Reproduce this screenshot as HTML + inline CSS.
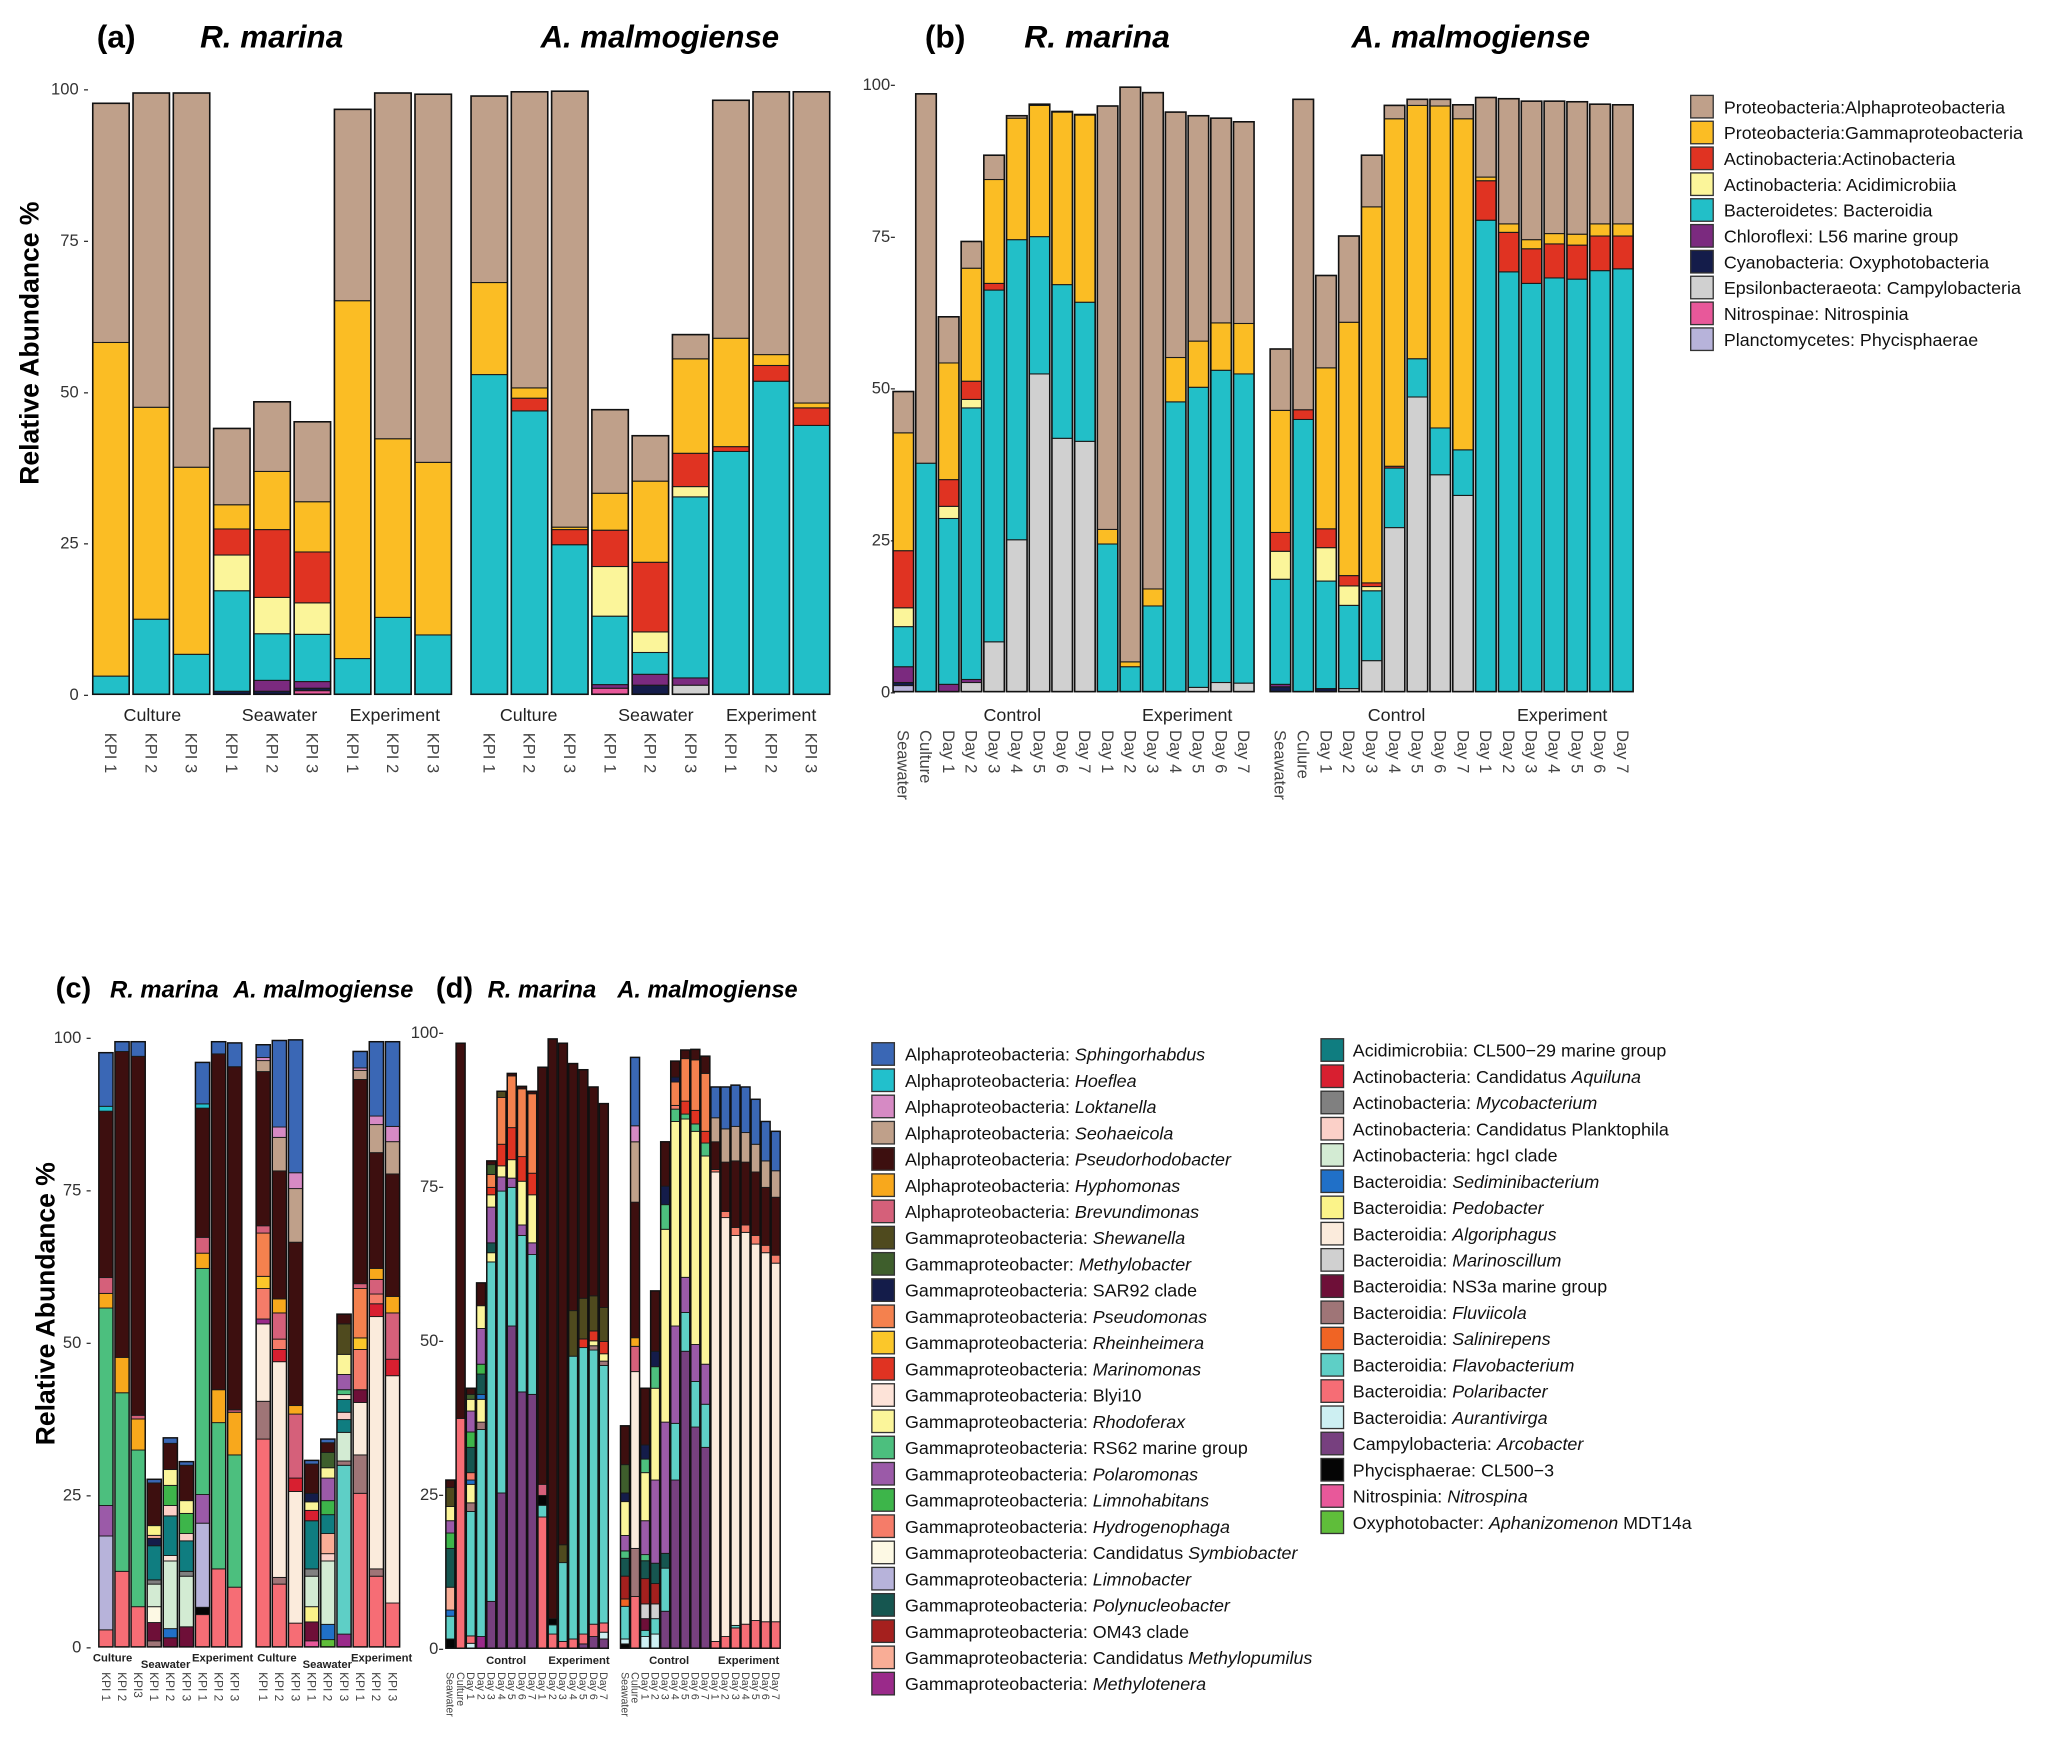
<!DOCTYPE html>
<html><head><meta charset="utf-8">
<style>
html,body{margin:0;padding:0;background:#fff;}
svg{display:block;font-family:"Liberation Sans",sans-serif;}
</style></head>
<body>
<svg id="fig" width="2067" height="1737" viewBox="0 0 1560 1311" preserveAspectRatio="none" xmlns="http://www.w3.org/2000/svg">
  <g font-weight="bold">
    <text x="73" y="36" font-size="24">(a)</text>
    <text x="151" y="36" font-size="24" font-style="italic" textLength="108" lengthAdjust="spacingAndGlyphs">R. marina</text>
    <text x="408" y="36" font-size="24" font-style="italic" textLength="180" lengthAdjust="spacingAndGlyphs">A. malmogiense</text>
    <text x="698" y="36" font-size="24">(b)</text>
    <text x="773" y="36" font-size="24" font-style="italic" textLength="110" lengthAdjust="spacingAndGlyphs">R. marina</text>
    <text x="1020" y="36" font-size="24" font-style="italic" textLength="180" lengthAdjust="spacingAndGlyphs">A. malmogiense</text>
    <text x="42" y="753" font-size="22">(c)</text>
    <text x="83" y="753" font-size="18" font-style="italic" textLength="82" lengthAdjust="spacingAndGlyphs">R. marina</text>
    <text x="176" y="753" font-size="18" font-style="italic" textLength="136" lengthAdjust="spacingAndGlyphs">A. malmogiense</text>
    <text x="329" y="753" font-size="22">(d)</text>
    <text x="368" y="753" font-size="18" font-style="italic" textLength="82" lengthAdjust="spacingAndGlyphs">R. marina</text>
    <text x="466" y="753" font-size="18" font-style="italic" textLength="136" lengthAdjust="spacingAndGlyphs">A. malmogiense</text>
  </g>
  <text transform="translate(29,259) rotate(-90)" text-anchor="middle" font-size="20" font-weight="bold">Relative Abundance %</text>
  <text transform="translate(41,984) rotate(-90)" text-anchor="middle" font-size="20" font-weight="bold">Relative Abundance %</text>
  <g id="layer"></g>
</svg>
<script>
// ---------- Panel a/b data (class level); segment heights, bottom-up in taxon order ----------
const abTaxa = ['Planctomycetes: Phycisphaerae','Nitrospinae: Nitrospinia','Epsilonbacteraeota: Campylobacteria','Cyanobacteria: Oxyphotobacteria','Chloroflexi: L56 marine group','Bacteroidetes: Bacteroidia','Actinobacteria: Acidimicrobiia','Actinobacteria:Actinobacteria','Proteobacteria:Gammaproteobacteria','Proteobacteria:Alphaproteobacteria'];
const abColors = ['#b7b3da','#e8589a','#d0d0d0','#141c4a','#7b2a7f','#22bfc8','#fbf59a','#e03322','#fbbd24','#bfa08a'];
const aCategories = ['KPI 1','KPI 2','KPI 3','KPI 1','KPI 2','KPI 3','KPI 1','KPI 2','KPI 3'];
const aRmValues = [
 [0,0,0,0,0,3.0,0,0,55.1,39.5],[0,0,0,0,0,12.4,0,0,35,51.9],[0,0,0,0,0,6.6,0,0,30.9,61.8],
 [0,0,0,0.5,0,16.6,5.9,4.3,4,12.6],[0,0,0,0.5,1.8,7.7,6,11.2,9.6,11.5],[0,0.6,0,0.4,1.1,7.8,5.2,8.4,8.3,13.2],
 [0,0,0,0,0,5.9,0,0,59.1,31.6],[0,0,0,0,0,12.7,0,0,29.5,57.1],[0,0,0,0,0,9.8,0,0,28.5,60.8]];
const aAmValues = [
 [0,0,0,0,0,52.8,0,0,15.2,30.8],[0,0,0,0,0,46.8,0,2.1,1.7,48.9],[0,0,0,0,0,24.7,0,2.5,0.4,72],
 [0,1,0,0,0.6,11.3,8.2,6,6.1,13.8],[0,0,0,1.5,1.8,3.6,3.4,11.5,13.4,7.5],[0,0,1.5,0,1.2,29.9,1.7,5.5,15.6,4],
 [0,0,0,0,0,40.1,0,0.8,17.9,39.3],[0,0,0,0,0,51.7,0,2.6,1.8,43.4],[0,0,0,0,0,44.4,0,2.9,0.8,51.4]];
const bCategories = ['Seawater','Culture','Day 1','Day 2','Day 3','Day 4','Day 5','Day 6','Day 7','Day 1','Day 2','Day 3','Day 4','Day 5','Day 6','Day 7'];
const bCategoriesAm = ['Seawater','Culure','Day 1','Day 2','Day 3','Day 4','Day 5','Day 6','Day 7','Day 1','Day 2','Day 3','Day 4','Day 5','Day 6','Day 7'];
const bRmValues = [
 [1,0,0,0.5,2.6,6.6,3.1,9.4,19.4,6.8],[0,0,0,0,0,37.6,0,0,0,60.8],[0,0,0,0,1.2,27.3,2,4.4,19.2,7.6],
 [0,0,1.5,0,0.5,44.7,1.4,3,18.6,4.4],[0,0,8.2,0,0,57.9,0,1.1,17.1,4],[0,0,25,0,0,49.4,0,0,20,0.4],
 [0,0,52.3,0,0,22.6,0,0,21.6,0.2],[0,0,41.7,0,0,25.3,0,0,28.4,0.1],[0,0,41.2,0,0,22.9,0,0,30.8,0.1],
 [0,0,0,0,0,24.3,0,0,2.4,69.7],[0,0,0,0,0,4.1,0,0,0.8,94.6],[0,0,0,0,0,14.1,0,0,2.8,81.7],
 [0,0,0,0,0,47.7,0,0,7.3,40.4],[0,0,0.7,0,0,49.4,0,0,7.6,37.1],[0,0,1.5,0,0,51.4,0,0,7.8,33.7],[0,0,1.4,0,0,50.9,0,0,8.3,33.2]];
const bAmValues = [
 [0,0,0,0.8,0.4,17.3,4.6,3.1,20.1,10.1],[0,0,0,0,0,44.8,0,1.6,0,51.1],[0,0,0,0.5,0,17.7,5.5,3.1,26.5,15.2],
 [0,0,0.5,0,0,13.7,3.2,1.7,41.7,14.2],[0,0,5.1,0,0,11.5,0.7,0.6,61.9,8.5],[0,0,27,0,0,9.8,0,0.3,57.2,2.2],
 [0,0,48.5,0,0,6.3,0,0,41.7,1],[0,0,35.7,0,0,7.7,0,0,53,1.1],[0,0,32.3,0,0,7.5,0,0,54.5,2.3],
 [0,0,0,0,0,77.6,0,6.5,0.6,13.1],[0,0,0,0,0,69.1,0,6.5,1.4,20.6],[0,0,0,0,0,67.2,0,5.7,1.5,22.8],
 [0,0,0,0,0,68.1,0,5.6,1.7,21.8],[0,0,0,0,0,67.9,0,5.6,1.8,21.8],[0,0,0,0,0,69.3,0,5.7,2,19.7],[0,0,0,0,0,69.6,0,5.4,2,19.6]];
const yTicks = [0,25,50,75,100];

// ---------- Panel c/d data (genus level); cumulative tops per bar ----------
const cdColors = {sph:'#3a67b5',hoe:'#22c0cc',lok:'#d68ac4',seo:'#bfa08a',psr:'#3d0f0f',hyp:'#f8a81c',brv:'#d5607a',shw:'#4f4a1e',mlb:'#3e5e2c',sar:'#141c4a',psm:'#f4814e',rhn:'#fbc72a',mar:'#e03322',bly:'#fde3d8',rdf:'#fbf59a',rs6:'#4cbf7e',pom:'#9b5aa8',lmh:'#3db54a',hyd:'#f57c69',sym:'#fdf9e4',lmb:'#b7b3da',pnc:'#165650',om4:'#a5201e',mpm:'#f9ad96',mtn:'#9a2a8a',acm:'#0f7d80',aqu:'#d81f30',myc:'#808080',plk:'#fbd0c8',hgc:'#d3ebd3',sed:'#2070c8',ped:'#fbf389',alg:'#fbebdc',msc:'#d0d0d0',ns3:'#6e0f38',flv:'#9f7577',sal:'#f06424',fla:'#5ecfc6',pob:'#f66d75',aur:'#cdeff2',arc:'#77407f',phy:'#050505',nit:'#e8589a',aph:'#5fbd3a'};
const cCategories = ['KPI 1','KPI 2','KPI3','KPI 1','KPI 2','KPI 3','KPI 1','KPI 2','KPI 3'];
const cCategoriesAm = ['KPI 1','KPI 2','KPI 3','KPI 1','KPI 2','KPI 3','KPI 1','KPI 2','KPI 3'];
const cRmTops = [
[['pob',2.8],['lmb',18.2],['pom',23.2],['rs6',55.6],['hyp',58],['brv',60.6],['psr',87.9],['hoe',88.7],['sph',97.5]],
[['pob',12.4],['rs6',41.7],['hyp',47.5],['psr',97.7],['sph',99.3]],
[['pob',6.6],['rs6',32.3],['hyp',37.4],['brv',38],['psr',96.9],['sph',99.3]],
[['flv',1],['ns3',4],['sym',6.6],['hgc',10.3],['myc',11],['acm',16.6],['sar',17.8],['mpm',18.3],['ped',19.9],['psr',26.9],['sph',27.5]],
[['ns3',1.5],['sed',3],['hgc',14.1],['bly',15],['acm',21.5],['plk',23.2],['lmh',26.5],['rdf',29.1],['psr',33.4],['sph',34.3]],
[['ns3',3.3],['hgc',11.6],['myc',12.4],['acm',17.4],['plk',18.6],['lmh',21.9],['rdf',24],['psr',29.8],['sph',30.4]],
[['pob',5.3],['phy',6.5],['lmb',20.3],['pom',25],['rs6',62.1],['hyp',64.6],['brv',67.2],['psr',88.4],['hoe',89.1],['sph',95.9]],
[['pob',12.8],['rs6',36.8],['hyp',42.2],['psr',97.3],['sph',99.3]],
[['pob',9.8],['rs6',31.5],['hyp',38.5],['brv',38.9],['psr',95.2],['sph',99.1]]];
const cAmTops = [
[['pob',34.1],['flv',40.3],['alg',53],['mtn',53.8],['hyd',58.8],['rhn',60.8],['psm',67.9],['brv',69.1],['psr',94.4],['seo',96.2],['lok',96.7],['sph',98.8]],
[['pob',10.3],['flv',11.4],['alg',46.8],['aqu',48.8],['hyd',50.5],['brv',54.8],['hyp',57.1],['psr',78.1],['seo',83.6],['lok',85.3],['sph',99.5]],
[['pob',3.9],['alg',25.5],['aqu',27.7],['brv',38.2],['hyp',39.6],['psr',66.4],['seo',75.2],['lok',77.8],['sph',99.6]],
[['nit',1],['ns3',4.1],['ped',6.6],['hgc',11.6],['myc',12.8],['acm',20.7],['aqu',22.4],['rdf',23.8],['sar',25.2],['psr',30],['sph',30.6]],
[['aph',1.2],['sed',3.7],['hgc',14.1],['plk',15.3],['mpm',18.6],['acm',21.7],['lmh',24],['pom',27.7],['rdf',29.4],['mlb',31.9],['psr',33.5],['sph',34.1]],
[['mtn',2.1],['fla',29.8],['flv',30.5],['hgc',35.2],['acm',37.3],['plk',38.5],['acm',40.6],['bly',41.4],['rs6',42.2],['pom',44.7],['rdf',48],['shw',53],['psr',54.6]],
[['pob',25.2],['flv',31.5],['alg',40.1],['ns3',42.2],['hyd',48.8],['rhn',50.7],['psm',58.8],['brv',59.6],['psr',93.1],['seo',94.6],['lok',95],['sph',97.7]],
[['pob',11.6],['flv',12.8],['alg',54.2],['aqu',56.3],['hyd',57.9],['brv',60.3],['hyp',62.1],['psr',81.1],['seo',85.7],['lok',87.1],['sph',99.3]],
[['pob',7.2],['alg',44.5],['aqu',47.2],['brv',54.8],['hyp',57.5],['psr',77.6],['seo',82.9],['lok',85.4],['sph',99.3]]];
const dRmTops = [
[['phy',1.5],['fla',5.2],['sed',6.2],['mpm',9.9],['pnc',16.2],['lmh',18.7],['pom',20.7],['rdf',23],['shw',26.1],['psr',27.3]],
[['pob',37.3],['psr',98.2]],
[['aur',0.8],['pob',2],['fla',22.2],['flv',23.6],['rdf',26.6],['sed',27.3],['hyd',28.5],['pnc',32.6],['lmh',35.1],['pom',38.5],['rdf',40.4],['mlb',41.2],['psr',42.2]],
[['mtn',1.9],['fla',35.5],['flv',36.7],['rdf',40.4],['sed',41.2],['pnc',44.5],['lmh',46.1],['pom',51.9],['rdf',55.6],['psr',59.3]],
[['arc',7.6],['fla',62.7],['rdf',64.2],['pnc',65.8],['pom',71.6],['rdf',73.6],['mar',74.8],['psm',76.9],['mlb',78.5],['psr',79.1]],
[['arc',25.2],['fla',74.2],['pom',76.5],['rdf',78.3],['mar',81.8],['psm',89.4],['shw',90.4]],
[['arc',52.3],['fla',74.8],['pom',76.3],['rdf',79.3],['mar',84.5],['psm',92.9],['psr',93.3]],
[['arc',41.6],['fla',67],['pom',68.7],['rdf',75.8],['mar',79.8],['psm',90.8],['psr',91.2]],
[['arc',41.2],['fla',63.9],['pom',65.8],['rdf',73.6],['mar',77.1],['psm',90],['psr',90.4]],
[['pob',21.3],['fla',23.2],['phy',24.8],['brv',26.6],['psr',94.3]],
[['pob',2.3],['fla',3.8],['phy',4.8],['psr',98.9]],
[['pob',1.1],['fla',13.9],['shw',16.8],['psr',98.2]],
[['pob',1.5],['fla',47.4],['shw',54.8],['psr',94.9]],
[['arc',0.7],['pob',2.3],['fla',48.8],['mar',50.2],['shw',56.8],['psr',93.9]],
[['arc',1.9],['pob',3.9],['fla',48.4],['flv',49.1],['rdf',49.9],['mar',51.5],['shw',57.2],['psr',91.1]],
[['arc',1.5],['aur',2.6],['pob',4.1],['fla',45.9],['flv',46.6],['rdf',47.8],['mar',49.8],['shw',55.3],['psr',88.4]]];
const dAmTops = [
[['phy',0.7],['aur',1.5],['fla',6.8],['sal',8],['om4',11.7],['pnc',14.6],['rs6',15.8],['pom',18.3],['rdf',23.8],['sar',25.2],['mlb',29.8],['psr',36.1]],
[['pob',8.4],['flv',16.2],['alg',44.9],['brv',49],['hyp',50.4],['psr',72.4],['seo',82.2],['lok',84.8],['sph',95.9]],
[['aur',1.9],['fla',2.9],['ns3',4.8],['msc',7.2],['om4',11.3],['pnc',14.2],['rs6',15.2],['pom',20.7],['rdf',28.5],['rs6',30.7],['sar',33],['psr',42.2]],
[['aur',2.3],['fla',4.8],['msc',7.2],['om4',10.5],['pnc',13.8],['pom',27.3],['rdf',42.2],['rs6',45.7],['sar',48.2],['psr',58]],
[['arc',6],['fla',13],['pnc',15.4],['pom',36.7],['rdf',68],['rs6',72],['sar',75],['psr',82.2]],
[['arc',27.3],['fla',36.5],['pom',52.3],['rdf',85.5],['rs6',87.5],['hyd',88.1],['psm',91.9],['sar',92.7],['psr',95.3]],
[['arc',48.2],['fla',54.5],['pom',60.2],['rdf',85.9],['rs6',86.7],['mar',88.8],['psm',95.7],['psr',97.1]],
[['arc',35.9],['fla',43.3],['pom',49.3],['rdf',83.9],['rs6',85.1],['mar',87.3],['psm',95.5],['psr',97.2]],
[['arc',32.6],['fla',39.6],['pom',46.1],['rdf',79.9],['rs6',82],['mar',83.9],['psm',93.3],['psr',96.1]],
[['pob',1.1],['alg',77.3],['hyd',77.7],['psr',82.2],['seo',86.1],['sph',91.1]],
[['pob',1.9],['alg',69.9],['hyd',70.9],['psr',78.9],['seo',84.3],['sph',91.1]],
[['pob',3.3],['fla',3.7],['alg',67],['hyd',68.3],['psr',79.1],['seo',84.7],['sph',91.4]],
[['pob',3.9],['alg',67.5],['hyd',68.7],['psr',78.9],['seo',83.7],['sph',91.1]],
[['pob',4.5],['alg',65.6],['hyd',67],['psr',77.3],['seo',81.8],['sph',89.1]],
[['pob',4.3],['alg',64.2],['hyd',65.4],['psr',74.8],['seo',79.1],['sph',85.5]],
[['pob',4.3],['alg',62.5],['hyd',63.8],['psr',73.2],['seo',77.5],['sph',83.9]]];
const cdLegendLeft = [
['sph','Alphaproteobacteria: ','Sphingorhabdus',''],['hoe','Alphaproteobacteria: ','Hoeflea',''],['lok','Alphaproteobacteria: ','Loktanella',''],
['seo','Alphaproteobacteria: ','Seohaeicola',''],['psr','Alphaproteobacteria: ','Pseudorhodobacter',''],['hyp','Alphaproteobacteria: ','Hyphomonas',''],
['brv','Alphaproteobacteria: ','Brevundimonas',''],['shw','Gammaproteobacteria: ','Shewanella',''],['mlb','Gammaproteobacter: ','Methylobacter',''],
['sar','Gammaproteobacteria: SAR92 clade','',''],['psm','Gammaproteobacteria: ','Pseudomonas',''],['rhn','Gammaproteobacteria: ','Rheinheimera',''],
['mar','Gammaproteobacteria: ','Marinomonas',''],['bly','Gammaproteobacteria: Blyi10','',''],['rdf','Gammaproteobacteria: ','Rhodoferax',''],
['rs6','Gammaproteobacteria: RS62 marine group','',''],['pom','Gammaproteobacteria: ','Polaromonas',''],['lmh','Gammaproteobacteria: ','Limnohabitans',''],
['hyd','Gammaproteobacteria: ','Hydrogenophaga',''],['sym','Gammaproteobacteria: Candidatus ','Symbiobacter',''],['lmb','Gammaproteobacteria: ','Limnobacter',''],
['pnc','Gammaproteobacteria: ','Polynucleobacter',''],['om4','Gammaproteobacteria: OM43 clade','',''],['mpm','Gammaproteobacteria: Candidatus ','Methylopumilus',''],
['mtn','Gammaproteobacteria: ','Methylotenera','']];
const cdLegendRight = [
['acm','Acidimicrobiia: CL500\u221229 marine group','',''],['aqu','Actinobacteria: Candidatus ','Aquiluna',''],['myc','Actinobacteria: ','Mycobacterium',''],
['plk','Actinobacteria: Candidatus Planktophila','',''],['hgc','Actinobacteria: hgcI clade','',''],['sed','Bacteroidia: ','Sediminibacterium',''],
['ped','Bacteroidia: ','Pedobacter',''],['alg','Bacteroidia: ','Algoriphagus',''],['msc','Bacteroidia: ','Marinoscillum',''],
['ns3','Bacteroidia: NS3a marine group','',''],['flv','Bacteroidia: ','Fluviicola',''],['sal','Bacteroidia: ','Salinirepens',''],
['fla','Bacteroidia: ','Flavobacterium',''],['pob','Bacteroidia: ','Polaribacter',''],['aur','Bacteroidia: ','Aurantivirga',''],
['arc','Campylobacteria: ','Arcobacter',''],['phy','Phycisphaerae: CL500\u22123','',''],['nit','Nitrospinia: ','Nitrospina',''],
['aph','Oxyphotobacter: ','Aphanizomenon',' MDT14a']];

const NS='http://www.w3.org/2000/svg';
const layer=document.getElementById('layer');
function mk(tag,attrs,parent){const e=document.createElementNS(NS,tag);for(const k in attrs)e.setAttribute(k,attrs[k]);(parent||layer).appendChild(e);return e;}
function yScale(y0,y100){return v=>y0-(y0-y100)*v/100;}

function axis(x,y0,y100,fs,dash,name){
  const y=yScale(y0,y100);
  const g=mk('g',{});
  
  
  yTicks.forEach(t=>{
    const tx=mk('text',{x:x,y:y(t)+fs*0.35,'text-anchor':'end','font-size':fs,fill:'#333'},g);
    
    
    tx.textContent=t+dash;
  });
}
function rotLabel(x,ytop,txt,fs,g){
  const t=mk('text',{x:0,y:0,transform:`translate(${x - fs*0.35},${ytop}) rotate(90)`,'font-size':fs,fill:'#444'},g);
  
  
  t.textContent=txt;
}
function groupLabel(x,y,txt,fs,bold){
  const t=mk('text',{x:x,y:y,'text-anchor':'middle','font-size':fs,fill:'#222','font-weight':bold?'bold':'normal'});
  
  
  t.textContent=txt;
}
// class-level bars
function classBars(vals,cats,x0,step,w,y0,y100,lblY,lfs,name){
  const y=yScale(y0,y100);
  const g=mk('g',{});
  
  
  vals.forEach((bar,i)=>{
    const x=x0+i*step; let cum=0;
    bar.forEach((v,k)=>{
      if(v<=0)return;
      const r=mk('rect',{x:x,y:y(cum+v),width:w,height:y(cum)-y(cum+v),fill:abColors[k],stroke:'#1a1a1a','stroke-width':0.8},g);
      
      
      cum+=v;
    });
    const o=mk('rect',{x:x,y:y(cum),width:w,height:y(0)-y(cum),fill:'none',stroke:'#111','stroke-width':1.2},g);
    
    
    rotLabel(x+w/2,lblY,cats[i],lfs,g);
  });
}
function genusBars(tops,cats,x0,step,w,y0,y100,lblY,lfs,name){
  const y=yScale(y0,y100);
  const g=mk('g',{});
  
  
  tops.forEach((bar,i)=>{
    const x=x0+i*step; let prev=0;
    bar.forEach(([k,t])=>{
      const r=mk('rect',{x:x,y:y(t),width:w,height:Math.max(0,y(prev)-y(t)),fill:cdColors[k],stroke:'#1a1a1a','stroke-width':0.7},g);
      
      
      prev=t;
    });
    const o=mk('rect',{x:x,y:y(prev),width:w,height:y(0)-y(prev),fill:'none',stroke:'#111','stroke-width':1.1},g);
    
    
    rotLabel(x+w/2,lblY,cats[i],lfs,g);
  });
}

// Panel a
axis(67,524,67,12.5,' -','panel-a-y-axis');
classBars(aRmValues,aCategories,70,30.4,27.5,524,67,553,12.5,'panel-a-r-marina-bars');
classBars(aAmValues,aCategories,355.5,30.4,27.5,524,67,553,12.5,'panel-a-a-malmogiense-bars');
[[115,'Culture'],[211,'Seawater'],[298,'Experiment'],[399,'Culture'],[495,'Seawater'],[582,'Experiment']].forEach(([x,t])=>groupLabel(x,544,t,13.5,false));
// Panel b
axis(676,522,63.5,12.5,'-','panel-b-y-axis');
classBars(bRmValues,bCategories,674,17.13,15.5,522,63.5,551,12.5,'panel-b-r-marina-bars');
classBars(bAmValues,bCategoriesAm,958.6,17.23,15.5,522,63.5,551,12.5,'panel-b-a-malmogiense-bars');
[[764,'Control'],[896,'Experiment'],[1054,'Control'],[1179,'Experiment']].forEach(([x,t])=>groupLabel(x,544,t,13.5,false));
// Panel c
axis(69,1243,783,12.5,' -','panel-c-y-axis');
genusBars(cRmTops,cCategories,74.6,12.15,10.7,1243,783,1262,9,'panel-c-r-marina-bars');
genusBars(cAmTops,cCategoriesAm,193.3,12.2,10.7,1243,783,1262,9,'panel-c-a-malmogiense-bars');
[[85,1254,'Culture'],[125,1259,'Seawater'],[168,1254,'Experiment'],[209,1254,'Culture'],[247,1259,'Seawater'],[288,1254,'Experiment']].forEach(([x,y,t])=>groupLabel(x,y,t,8.5,true));
// Panel d
axis(335,1244,779,12.5,'-','panel-d-y-axis');
genusBars(dRmTops,bCategories,336.5,7.72,6.8,1244,779,1262,8,'panel-d-r-marina-bars');
genusBars(dAmTops,bCategoriesAm,468.3,7.58,6.8,1244,779,1262,8,'panel-d-a-malmogiense-bars');
[[382,'Control'],[437,'Experiment'],[505,'Control'],[565,'Experiment']].forEach(([x,t])=>groupLabel(x,1256,t,8.5,true));

// Legend b
(function(){
  const g=mk('g',{});
  
  
  const order=[9,8,7,6,5,4,3,2,1,0];
  order.forEach((k,i)=>{
    const yy=72+i*19.5;
    const r=mk('rect',{x:1276,y:yy,width:17,height:17,fill:abColors[k],stroke:'#333','stroke-width':1},g);
    
    
    const t=mk('text',{x:1301,y:yy+13.5,'font-size':13.5,fill:'#111'},g);
    
    
    t.textContent=abTaxa[k];
  });
})();
// Legend c/d
function cdLegend(list,xs,xt,ytop,name){
  const g=mk('g',{});
  
  
  list.forEach(([k,a,b,c],i)=>{
    const yy=ytop+i*19.8;
    const r=mk('rect',{x:xs,y:yy,width:17,height:17,fill:cdColors[k],stroke:'#333','stroke-width':1},g);
    
    
    const t=mk('text',{x:xt,y:yy+13.5,'font-size':13.5,fill:'#111'},g);
    
    
    const s1=mk('tspan',{},t); s1.textContent=a;
    if(b){const s2=mk('tspan',{'font-style':'italic'},t); s2.textContent=b;}
    if(c){const s3=mk('tspan',{},t); s3.textContent=c;}
  });
}
cdLegend(cdLegendLeft,658,683,787,'panel-cd-legend-left');
cdLegend(cdLegendRight,997,1021,784,'panel-cd-legend-right');
</script>
</body></html>
